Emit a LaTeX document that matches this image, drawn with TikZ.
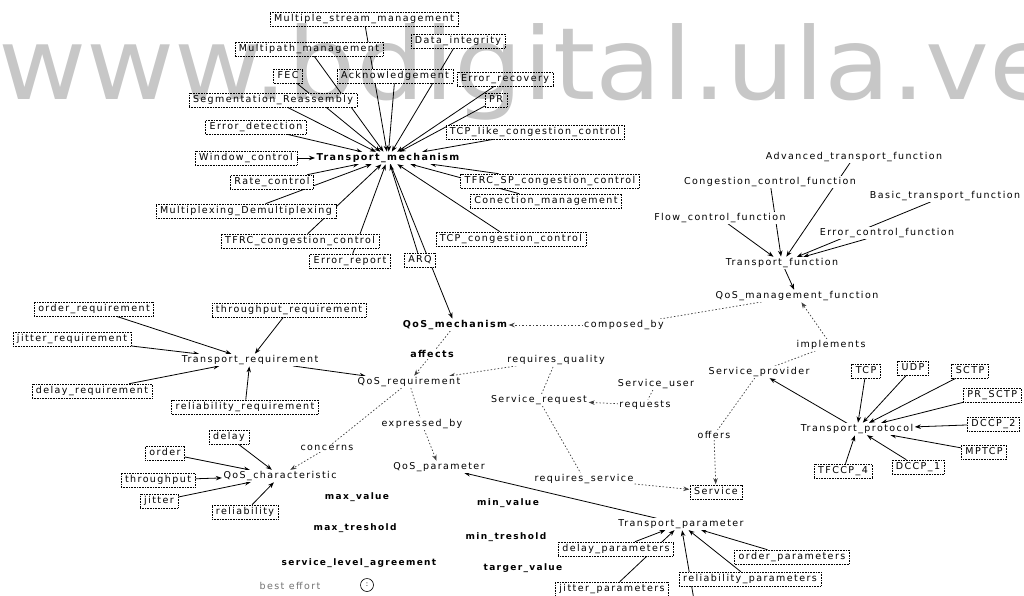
\documentclass[tikz,border=0pt]{standalone}
\usepackage{fontspec}
\setmainfont{DejaVu Sans}
\newfontfamily\lblfont[LetterSpace=15]{DejaVu Sans}
\newfontfamily\wmfont{DejaVu Sans}
\usetikzlibrary{arrows.meta}
\pgfdeclarelayer{paper}
\pgfdeclarelayer{edges}
\pgfsetlayers{paper,edges,main}
\tikzset{
  lbl/.style={font=\lblfont\fontsize{9.5}{11}\selectfont, fill=white, inner sep=1pt},
  cls/.style={lbl, draw, densely dotted, line width=0.6pt, inner xsep=4pt, inner ysep=2.5pt,
              text height=7pt, text depth=2pt},
  attr/.style={lbl, font=\lblfont\fontsize{9}{11}\selectfont\bfseries},
  bold/.style={lbl, font=\lblfont\fontsize{9.5}{11}\selectfont\bfseries},
  faint/.style={lbl, text=black!55},
  isa/.style={-{Stealth[length=6pt,width=4.5pt]}, line width=0.8pt, shorten >=0.5pt},
  rel/.style={dash pattern=on 1.5pt off 2pt, line width=0.7pt, black!75},
  relarrow/.style={rel, -{Stealth[length=6pt,width=4.5pt]}, shorten >=0.5pt},
}
\begin{document}
\begin{tikzpicture}[x=1pt,y=-1pt]
\useasboundingbox (0,0) rectangle (1024,596);
\begin{pgfonlayer}{paper}
  \fill[white] (0,0) rectangle (1024,596);
\end{pgfonlayer}

% ---- transport mechanisms ----
\node[bold] (tm) at (388,158) {Transport\_mechanism};
\node[cls] (mult)    at (364,19)  {Multiple\_stream\_management};
\node[cls] (mpath)   at (309,49)  {Multipath\_management};
\node[cls] (dint)    at (458,41)  {Data\_integrity};
\node[cls] (fec)     at (288,76)  {FEC};
\node[cls] (ack)     at (395,76)  {Acknowledgement};
\node[cls] (erec)    at (505,79)  {Error\_recovery};
\node[cls] (seg)     at (273,100) {Segmentation\_Reassembly};
\node[cls] (pr)      at (496,100) {PR};
\node[cls] (edet)    at (256,127) {Error\_detection};
\node[cls] (tcplike) at (535,132) {TCP\_like\_congestion\_control};
\node[cls] (win)     at (246,158) {Window\_control};
\node[cls] (rate)    at (272,182) {Rate\_control};
\node[cls] (mux)     at (246,211) {Multiplexing\_Demultiplexing};
\node[cls] (tfrc)    at (300,241) {TFRC\_congestion\_control};
\node[cls] (erep)    at (350,261) {Error\_report};
\node[cls] (arq)     at (420,260) {ARQ};
\node[cls] (tfrcsp)  at (550,181) {TFRC\_SP\_congestion\_control};
\node[cls] (conn)    at (546,201) {Conection\_management};
\node[cls] (tcpcc)   at (511,239) {TCP\_congestion\_control};

% ---- transport functions ----
\node[lbl] (adv)    at (854,157) {Advanced\_transport\_function};
\node[lbl] (cong)   at (770,182) {Congestion\_control\_function};
\node[lbl] (basic)  at (945,196) {Basic\_transport\_function};
\node[lbl] (flow)   at (720,218) {Flow\_control\_function};
\node[lbl] (errctl) at (887,233) {Error\_control\_function};
\node[lbl] (tfunc)  at (782,263) {Transport\_function};
\node[lbl] (qmf)    at (797,296) {QoS\_management\_function};

% ---- QoS core ----
\node[lbl]  (composedby)  at (624,325) {composed\_by};
\node[bold] (qosmech)     at (455,325) {QoS\_mechanism};
\node[bold] (affects)     at (432,354) {affects};
\node[lbl]  (qosreq)      at (409,382) {QoS\_requirement};
\node[lbl]  (reqquality)  at (556,360) {requires\_quality};
\node[lbl]  (sreq)        at (539,400) {Service\_request};
\node[lbl]  (suser)       at (656,384) {Service\_user};
\node[lbl]  (requests)    at (645,405) {requests};
\node[lbl]  (sprov)       at (759,372) {Service\_provider};
\node[lbl]  (implements)  at (831,345) {implements};
\node[lbl]  (offers)      at (714,435) {offers};
\node[cls]  (service)     at (716,492) {Service};
\node[lbl]  (reqservice)  at (584,479) {requires\_service};
\node[lbl]  (concerns)    at (327,448) {concerns};
\node[lbl]  (expressedby) at (422,424) {expressed\_by};
\node[lbl]  (qosparam)    at (439,467) {QoS\_parameter};

% ---- transport protocols ----
\node[lbl] (tprot)  at (857,429) {Transport\_protocol};
\node[cls] (tcp)    at (866,371) {TCP};
\node[cls] (udp)    at (913,368) {UDP};
\node[cls] (sctp)   at (970,371) {SCTP};
\node[cls, anchor=west] (prsctp) at (963,395) {PR\_SCTP};
\node[cls, anchor=west] (dccp2)  at (967,424) {DCCP\_2};
\node[cls] (mptcp)  at (984,452) {MPTCP};
\node[cls] (dccp1)  at (918,467) {DCCP\_1};
\node[cls] (tfccp4) at (843,471) {TFCCP\_4};

% ---- requirements ----
\node[lbl] (treq)   at (250,360) {Transport\_requirement};
\node[cls] (ordreq) at (94,309)  {order\_requirement};
\node[cls] (thrreq) at (289,310) {throughput\_requirement};
\node[cls] (jitreq) at (72,339)  {jitter\_requirement};
\node[cls] (delreq) at (92,391)  {delay\_requirement};
\node[cls] (relreq) at (245,407) {reliability\_requirement};

% ---- characteristics ----
\node[lbl] (qoschar) at (280,476) {QoS\_characteristic};
\node[cls] (delay)   at (229,437) {delay};
\node[cls] (order)   at (165,453) {order};
\node[cls] (thr)     at (158,480) {throughput};
\node[cls] (jitter)  at (159,501) {jitter};
\node[cls] (rel)     at (245,512) {reliability};

% ---- parameter attributes ----
\node[attr] (maxv) at (357,497) {max\_value};
\node[attr] (maxt) at (355,528) {max\_treshold};
\node[attr] (sla)  at (359,563) {service\_level\_agreement};
\node[attr] (minv) at (508,503) {min\_value};
\node[attr] (mint) at (506,537) {min\_treshold};
\node[attr] (targ) at (523,568) {targer\_value};
\node[faint] (besteffort) at (290,586) {best effort};
\node[circle, draw, line width=0.6pt, minimum size=13pt, inner sep=0pt,
      font=\fontsize{7}{7}\selectfont] (dot) at (367,585) {:};

% ---- transport parameters ----
\node[lbl] (tparam) at (681,524) {Transport\_parameter};
\node[cls] (delpar) at (616,549) {delay\_parameters};
\node[cls] (ordpar) at (792,557) {order\_parameters};
\node[cls] (relpar) at (750,579) {reliability\_parameters};
\node[cls] (jitpar) at (612,589) {jitter\_parameters};
\coordinate (below) at (694,600);

\begin{pgfonlayer}{edges}
  % mechanisms
  \foreach \n in {mult,mpath,dint,fec,ack,erec,seg,pr,edet,tcplike,
                  rate,mux,tfrc,erep,arq,tfrcsp,conn,tcpcc}
    \draw[isa] (\n) -- (tm);
  \draw[isa] (win) -- (tm.west);
  \draw[isa] (tm) -- (qosmech);
  % functions
  \foreach \n in {adv,cong,flow,basic,errctl}
    \draw[isa] (\n) -- (tfunc);
  \draw[isa] (tfunc) -- (qmf);
  % protocols
  \foreach \n in {tcp,udp,sctp,prsctp,dccp2,mptcp,dccp1,tfccp4}
    \draw[isa] (\n) -- (tprot);
  \draw[isa] (tprot) -- (sprov);
  % requirements
  \foreach \n in {ordreq,thrreq,jitreq,delreq,relreq}
    \draw[isa] (\n) -- (treq);
  \draw[isa] (treq) -- (qosreq);
  \foreach \n in {delay,order,thr,jitter,rel}
    \draw[isa] (\n) -- (qoschar);
  % parameters
  \foreach \n in {delpar,ordpar,relpar,jitpar,below}
    \draw[isa] (\n) -- (tparam);
  \draw[isa] (tparam) -- (qosparam);
  % named relations
  \draw[rel] (qmf) -- (composedby);
  \draw[relarrow] (composedby) -- (qosmech);
  \draw[rel] (qosmech) -- (affects);
  \draw[relarrow] (affects) -- (qosreq);
  \draw[rel] (sreq) -- (reqquality);
  \draw[relarrow] (reqquality) -- (qosreq);
  \draw[rel] (suser) -- (requests);
  \draw[relarrow] (requests) -- (sreq);
  \draw[rel] (sprov) -- (implements);
  \draw[relarrow] (implements) -- (qmf);
  \draw[rel] (sprov) -- (offers);
  \draw[relarrow] (offers) -- (service);
  \draw[rel] (sreq) -- (reqservice);
  \draw[relarrow] (reqservice) -- (service);
  \draw[rel] (qosreq) -- (concerns);
  \draw[relarrow] (concerns) -- (qoschar);
  \draw[rel] (qosreq) -- (expressedby);
  \draw[relarrow] (expressedby) -- (qosparam);
\end{pgfonlayer}

% library watermark across the top
\node[anchor=base west, inner sep=0pt, text=black, opacity=0.22, xscale=1.08,
      font=\wmfont\fontsize{100}{100}\selectfont] (wm) at (-2,100) {www.bdigital.ula.ve};
\end{tikzpicture}
\end{document}
